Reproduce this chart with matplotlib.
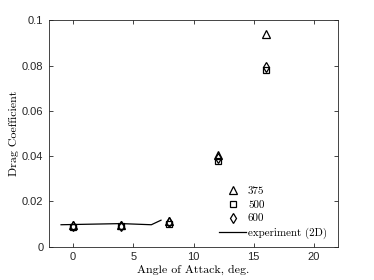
import numpy as np
import matplotlib
matplotlib.use("Agg")
import matplotlib.pyplot as plt

# angle of attack (deg.)
alpha = [0, 4, 8, 12, 16]

# drag coefficient per case
cd_375 = [0.0095, 0.0097, 0.0115, 0.0405, 0.094]
cd_500 = [0.0088, 0.0090, 0.0102, 0.0378, 0.078]
cd_600 = [0.0091, 0.0093, 0.0107, 0.0390, 0.0795]

# experiment (2D)
exp_alpha = [-1, 4, 6.5, 7.3]
exp_cd = [0.0097, 0.0102, 0.0097, 0.0117]

labels = ["375", "500", "600", "experiment (2D)"]

serif = "cmr10"
sans = "Liberation Sans"

fig = plt.figure(figsize=(3.74, 2.8), dpi=100)
ax = fig.add_axes([49 / 374, 1 - 246.7 / 280, (338 - 49) / 374, (246.7 - 20.3) / 280])

mk = dict(linestyle="none", color="black", markerfacecolor="none", markeredgewidth=0.9)
ax.plot(alpha, cd_375, marker="^", markersize=5.5, label=labels[0], **mk)
ax.plot(alpha, cd_500, marker="s", markersize=4.5, label=labels[1], **mk)
ax.plot(alpha, cd_600, marker="d", markersize=5.5, label=labels[2], **mk)
ax.plot(exp_alpha, exp_cd, color="black", linewidth=0.9, label=labels[3])

ax.set_xlim(-2, 22)
ax.set_ylim(0, 0.1)
ax.set_xticks([0, 5, 10, 15, 20])
ax.set_yticks([0, 0.02, 0.04, 0.06, 0.08, 0.1])
ax.set_yticklabels(["0", "0.02", "0.04", "0.06", "0.08", "0.1"])

ax.tick_params(direction="in", top=True, right=True, length=3, width=0.6,
               labelsize=8, colors="0.15", pad=4)
for lbl in ax.get_xticklabels() + ax.get_yticklabels():
    lbl.set_fontfamily(sans)
for s in ax.spines.values():
    s.set_linewidth(0.6)
    s.set_color("0.15")

ax.set_xlabel("Angle of Attack, deg.", fontfamily=serif, fontsize=8.6, labelpad=2)
ax.set_ylabel("Drag Coefficient", fontfamily=serif, fontsize=8.6, labelpad=2)

leg = ax.legend(loc="lower right", bbox_to_anchor=(0.985, 0.005), frameon=False,
                prop={"family": serif, "size": 7.9}, handlelength=2.5,
                handletextpad=0.15, labelspacing=0.38, borderaxespad=0.2)

fig.savefig("out.png", dpi=100)
